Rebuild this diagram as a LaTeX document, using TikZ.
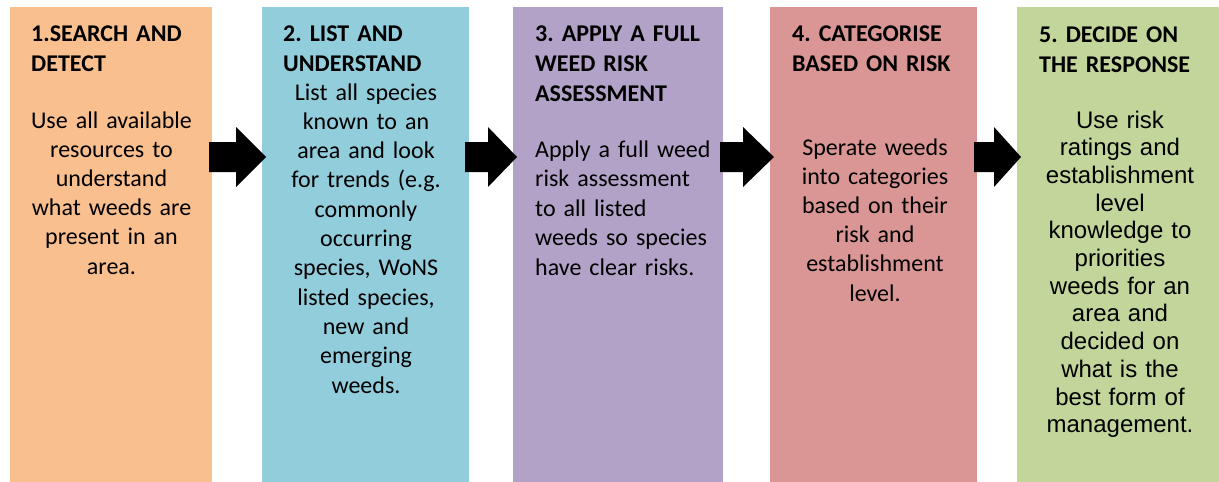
\documentclass[tikz,border=0pt]{standalone}
\usepackage{fontspec}
\setmainfont{Carlito}
\newfontfamily\arialfont{Liberation Sans}
\frenchspacing
\definecolor{peach}{HTML}{FABF8F}
\definecolor{aqua}{HTML}{92CDDC}
\definecolor{lilac}{HTML}{B2A2C7}
\definecolor{rose}{HTML}{D99694}
\definecolor{olive}{HTML}{C2D69B}
% block arrow: shaft start, head base, tip
\newcommand\blockarrow[3]{%
  \fill[black] (#1,142) -- (#2,142) -- (#2,127) -- (#3,157) -- (#2,187) -- (#2,172) -- (#1,172) -- cycle;}
\begin{document}
\begin{tikzpicture}[x=1pt,y=-1pt,
  stage/.style={rectangle, draw=none, inner sep=0pt, outer sep=0pt,
    minimum height=476pt, anchor=north west},
  head/.style={anchor=base west, align=left, inner sep=0pt, text width=190pt,
    font=\bfseries\fontsize{24}{30}\selectfont},
  body/.style={anchor=base, align=center, inner sep=0pt, text width=195pt,
    font=\fontsize{24}{29.2}\selectfont},
  bodyleft/.style={anchor=base west, align=left, inner sep=0pt, text width=190pt,
    font=\fontsize{24}{29.5}\selectfont}]
\useasboundingbox (0,0) rectangle (1219,482);

% stage boxes
\node[stage, fill=peach, minimum width=202pt] (s1) at (10,7) {};
\node[stage, fill=aqua,  minimum width=207pt] (s2) at (262,7) {};
\node[stage, fill=lilac, minimum width=210pt] (s3) at (513,7) {};
\node[stage, fill=rose,  minimum width=207pt] (s4) at (770,7) {};
\node[stage, fill=olive, minimum width=203pt] (s5) at (1017,7) {};

% arrows between stages
\blockarrow{209}{236}{266}
\blockarrow{465}{488}{517}
\blockarrow{720}{743}{774}
\blockarrow{974}{994}{1021}

% stage 1
\node[head] (h1) at (31,41) {1.SEARCH AND\\DETECT};
\node[body] (b1) at (111.5,128) {Use all available\\resources to\\understand\\what weeds are\\present in an\\area.};

% stage 2
\node[head] (h2) at (283,41) {2. LIST AND\\UNDERSTAND};
\node[body, font=\fontsize{24}{29.3}\selectfont] (b2) at (366,100) {List all species\\known to an\\area and look\\for trends (e.g.\\commonly\\occurring\\species, WoNS\\listed species,\\new and\\emerging\\weeds.};

% stage 3
\node[head] (h3) at (535,41) {3. APPLY A FULL\\WEED RISK\\ASSESSMENT};
\node[bodyleft] (b3) at (535,157) {Apply a full weed\\risk assessment\\to all listed\\weeds so species\\have clear risks.};

% stage 4
\node[head] (h4) at (792,41) {4. CATEGORISE\\BASED ON RISK};
\node[body] (b4) at (875,155) {Sperate weeds\\into categories\\based on their\\risk and\\establishment\\level.};

% stage 5
\node[head] (h5) at (1039,42) {5. DECIDE ON\\THE RESPONSE};
\node[body, font=\arialfont\fontsize{24}{27.7}\selectfont] (b5) at (1120,128) {Use risk\\ratings and\\establishment\\level\\knowledge to\\priorities\\weeds for an\\area and\\decided on\\what is the\\best form of\\management.};
\end{tikzpicture}
\end{document}
